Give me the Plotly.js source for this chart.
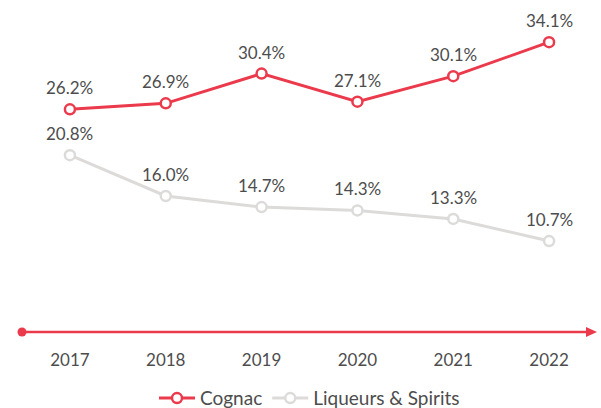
<!DOCTYPE html>
<html>
<head>
<meta charset="utf-8">
<script src="https://cdn.plot.ly/plotly-3.0.1.min.js"></script>
<style>html,body{margin:0;padding:0;background:#fff;}#chart{width:601px;height:408px;}</style>
</head>
<body>
<div id="chart"></div>
<script>
const years = [2017, 2018, 2019, 2020, 2021, 2022];
const cognac = [26.2, 26.9, 30.4, 27.1, 30.1, 34.1];
const liqueurs = [20.8, 16.0, 14.7, 14.3, 13.3, 10.7];
const seriesNames = ['Cognac', 'Liqueurs & Spirits'];

const RED = '#EB3A4C';
const GREY = '#DDDBD9';
const TEXT = '#4d4d4d';
const FONT = 'Lato, "Open Sans", sans-serif';

function trace(vals, name, color) {
  return {
    x: years, y: vals, name: name, type: 'scatter', mode: 'lines+markers',
    line: {color: color, width: 3},
    marker: {size: 10, color: '#fff', line: {color: color, width: 2.5}},
    hoverinfo: 'skip'
  };
}

function labels(vals) {
  return years.map((yr, i) => ({
    x: yr, y: vals[i], text: vals[i].toFixed(1) + '%', showarrow: false,
    yanchor: 'bottom', yshift: 9, font: {family: FONT, size: 17, color: TEXT}
  }));
}

const layout = {
  width: 601, height: 408,
  margin: {l: 22, r: 4, t: 26, b: 76, autoexpand: false},
  paper_bgcolor: '#fff', plot_bgcolor: '#fff',
  font: {family: FONT, color: TEXT},
  showlegend: true,
  legend: {orientation: 'h', x: 0.5, xanchor: 'center', yref: 'container', y: 0.024, yanchor: 'middle',
           font: {family: FONT, size: 19, color: TEXT}, itemwidth: 36, tracegroupgap: 0},
  xaxis: {range: [2016.5, 2022.5], tickvals: years, ticktext: years.map(String),
          showgrid: false, zeroline: false, showline: false,
          ticks: 'outside', ticklen: 13, tickcolor: 'rgba(0,0,0,0)',
          tickfont: {family: FONT, size: 17, color: TEXT}, fixedrange: true, automargin: false},
  yaxis: {range: [0, 36], visible: false, showgrid: false, zeroline: false, fixedrange: true},
  annotations: labels(cognac).concat(labels(liqueurs)),
  shapes: [
    {type: 'line', xref: 'paper', yref: 'paper', x0: 0, x1: 0.99, y0: 0, y1: 0,
     line: {color: RED, width: 2.5}, layer: 'below'},
    {type: 'circle', xref: 'paper', yref: 'paper', xsizemode: 'pixel', ysizemode: 'pixel',
     xanchor: 0, yanchor: 0, x0: -4.5, x1: 4.5, y0: -4.5, y1: 4.5,
     fillcolor: RED, line: {width: 0}},
    {type: 'path', xref: 'paper', yref: 'paper', xsizemode: 'pixel', ysizemode: 'pixel',
     xanchor: 1, yanchor: 0, path: 'M -11,5 L 0,0 L -11,-5 Z',
     fillcolor: RED, line: {width: 0}}
  ]
};

Plotly.newPlot('chart', [trace(cognac, seriesNames[0], RED), trace(liqueurs, seriesNames[1], GREY)],
  layout, {displayModeBar: false, staticPlot: true});
</script>
</body>
</html>
